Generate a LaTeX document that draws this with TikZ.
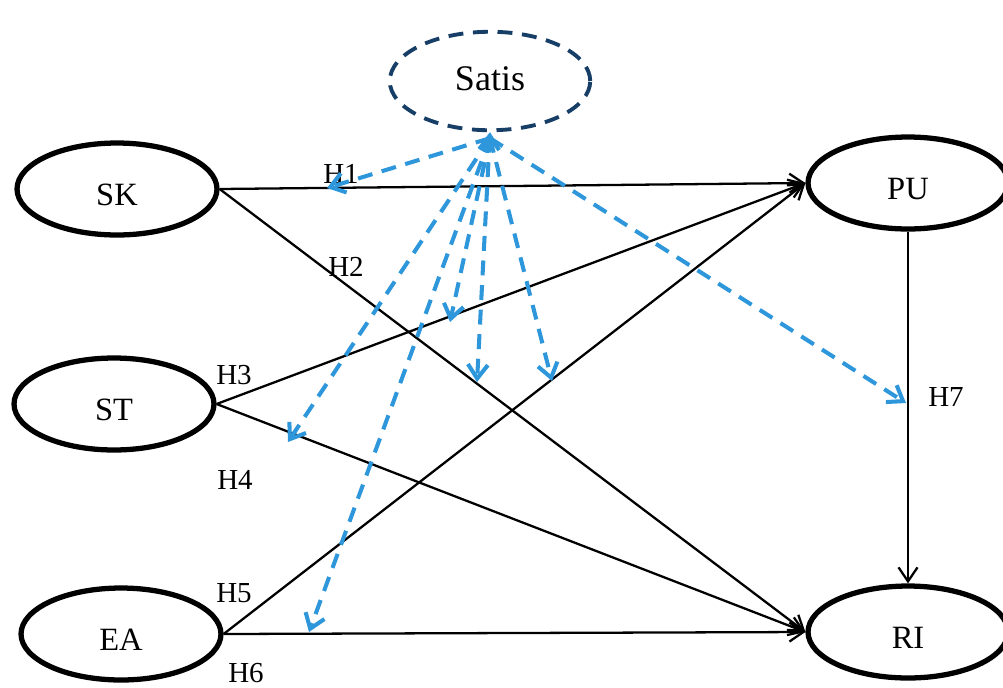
\documentclass[tikz,border=0pt]{standalone}
\usepackage{fontspec}
\setmainfont{Liberation Serif}
\usetikzlibrary{arrows.meta,shapes.geometric}
\definecolor{satisnavy}{RGB}{22,62,102}
\definecolor{linkblue}{RGB}{46,150,218}
\tikzset{
  construct/.style={ellipse, draw=black, fill=white, line width=3pt,
    minimum width=4cm, minimum height=1.84cm, inner sep=0pt,
    text height=0.66cm, text depth=0pt, font=\fontsize{18.5}{20}\selectfont},
  mediator/.style={ellipse, draw=satisnavy, fill=white, line width=2.2pt,
    dash pattern=on 8.5pt off 5.5pt, minimum width=4.01cm, minimum height=1.97cm,
    inner sep=0pt, text height=0.36cm, text depth=0pt,
    font=\fontsize{20.5}{22}\selectfont},
  effect/.style={line width=1.3pt, -{Straight Barb[length=0.28cm,width=0.38cm]}},
  moderation/.style={draw=linkblue, line width=2.3pt, dash pattern=on 8.5pt off 5.5pt,
    -{Straight Barb[length=0.28cm,width=0.4cm]}},
  hyp/.style={inner sep=0pt, font=\fontsize{16.5}{18}\selectfont}
}
\begin{document}
\begin{tikzpicture}[x=0.02cm, y=-0.02cm]
\useasboundingbox (0,0) rectangle (1003,687);

% constructs
\node[mediator]  (Satis) at (490,81)  {Satis};
\node[construct] (SK)    at (117,189) {SK};
\node[construct] (ST)    at (114,404) {ST};
\node[construct] (EA)    at (121,634) {EA};
\node[construct] (PU)    at (908,183) {PU};
\node[construct] (RI)    at (908,632) {RI};

% hypothesis labels
\node[hyp] (h1) at (341,174) {H1};
\node[hyp] (h2) at (346,267) {H2};
\node[hyp] (h3) at (234,375) {H3};
\node[hyp] (h4) at (235,480) {H4};
\node[hyp] (h5) at (234,593) {H5};
\node[hyp] (h6) at (246,673) {H6};
\node[hyp] (h7) at (946,397) {H7};

% direct effects
\draw[effect] (SK.east) -- (PU.west);
\draw[effect] (SK.east) -- (RI.west);
\draw[effect] (ST.east) -- (PU.west);
\draw[effect] (ST.east) -- (RI.west);
\draw[effect] (EA.east) -- (PU.west);
\draw[effect] (EA.east) -- (RI.west);
\draw[effect] (PU.south) -- (RI.north);

% moderating effects of Satis
\coordinate (s)  at ([yshift=-0.12cm]Satis.south);
\coordinate (m1) at (327,188);
\coordinate (m2) at (450,322);
\coordinate (m3) at (477,382);
\coordinate (m4) at (552,381);
\coordinate (m5) at (288,442);
\coordinate (m6) at (309,632);
\coordinate (m7) at (906,403);
\draw[moderation] (s) -- (m1);
\draw[moderation] (s) -- (m2);
\draw[moderation, {Straight Barb[length=0.28cm,width=0.4cm]}-{Straight Barb[length=0.28cm,width=0.4cm]}] (Satis.south) -- (m3);
\draw[moderation] (s) -- (m4);
\draw[moderation] (s) -- (m5);
\draw[moderation] (s) -- (m6);
\draw[moderation] (s) -- (m7);
\end{tikzpicture}
\end{document}
